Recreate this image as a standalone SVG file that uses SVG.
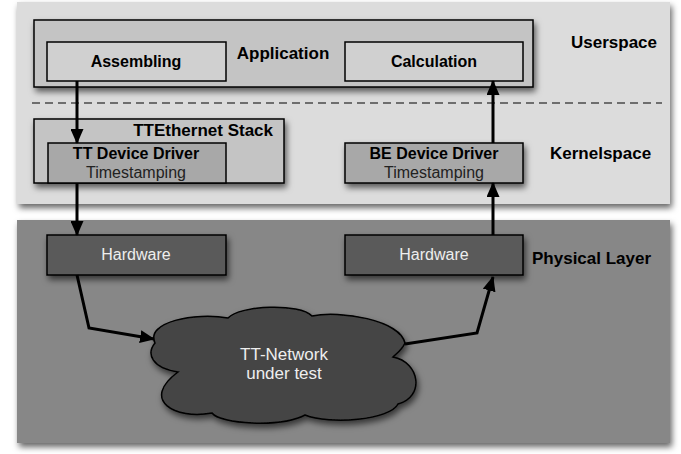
<svg xmlns="http://www.w3.org/2000/svg" width="681" height="454" viewBox="0 0 681 454">
<defs>
<filter id="sh" x="-10%" y="-10%" width="130%" height="140%">
<feDropShadow dx="2" dy="4" stdDeviation="3" flood-color="#000" flood-opacity="0.6"/>
</filter>
<marker id="ah" viewBox="0 0 15 13" refX="14" refY="6.5" markerWidth="15" markerHeight="13" markerUnits="userSpaceOnUse" orient="auto">
<path d="M0,0 L15,6.5 L0,13 Z" fill="#000"/>
</marker>
</defs>
<style>
text{font-family:"Liberation Sans",Arial,sans-serif;}
.b{font-weight:bold;fill:#000;}
.box{stroke:#000;stroke-width:1.5;}
.c{stroke:#000;stroke-width:3;fill:none;marker-end:url(#ah);}
</style>
<g id="userkernel-panel">
<rect x="17" y="2" width="653" height="202" fill="#dcdcdc" filter="url(#sh)"/>
</g>
<g id="physical-panel">
<rect x="17" y="220" width="653" height="223" fill="#878787" filter="url(#sh)"/>
</g>
<g id="labels">
<text class="b" x="571" y="48" font-size="17">Userspace</text>
<text class="b" x="550" y="159" font-size="17">Kernelspace</text>
<text class="b" x="532" y="264" font-size="17">Physical Layer</text>
</g>
<line x1="32" y1="103" x2="662" y2="103" stroke="#000" stroke-width="1.2" stroke-dasharray="8,5"/>
<g id="application">
<rect class="box" x="34" y="20" width="499" height="67" fill="#c4c4c4" filter="url(#sh)"/>
<text class="b" x="283" y="59" font-size="17" text-anchor="middle">Application</text>
</g>
<g id="assembling">
<rect class="box" x="47" y="42" width="179" height="39" fill="#d0d0d0"/>
<text class="b" x="136" y="67" font-size="16" text-anchor="middle">Assembling</text>
</g>
<g id="calculation">
<rect class="box" x="345" y="42" width="178" height="39" fill="#d0d0d0"/>
<text class="b" x="434" y="67" font-size="16" text-anchor="middle">Calculation</text>
</g>
<g id="ttethernet-stack">
<rect class="box" x="34" y="119" width="250" height="64" fill="#c4c4c4" filter="url(#sh)"/>
<text class="b" x="273" y="136" font-size="17" text-anchor="end">TTEthernet Stack</text>
</g>
<g id="tt-device-driver">
<rect class="box" x="48" y="143" width="178" height="40" fill="#a8a8a8"/>
<text class="b" x="136" y="159" font-size="16" text-anchor="middle">TT Device Driver</text>
<text x="136" y="178" font-size="16" text-anchor="middle" fill="#222">Timestamping</text>
</g>
<g id="be-device-driver">
<rect class="box" x="345" y="143" width="178" height="40" fill="#a8a8a8" filter="url(#sh)"/>
<text class="b" x="434" y="159" font-size="16" text-anchor="middle">BE Device Driver</text>
<text x="434" y="178" font-size="16" text-anchor="middle" fill="#222">Timestamping</text>
</g>
<g id="hardware-left">
<rect class="box" x="47" y="235" width="179" height="40" fill="#5a5a5a" filter="url(#sh)"/>
<text x="136" y="260" font-size="16" text-anchor="middle" fill="#eee">Hardware</text>
</g>
<g id="hardware-right">
<rect class="box" x="345" y="235" width="178" height="40" fill="#5a5a5a" filter="url(#sh)"/>
<text x="434" y="260" font-size="16" text-anchor="middle" fill="#eee">Hardware</text>
</g>
<g id="tt-network">
<path class="box" fill="#444" filter="url(#sh)" d="M155,343 C145,322 195,312 228,318 C240,305 300,303 312,316 C340,310 400,320 405,343 C402,350 396,354 393,357 C420,362 425,397 398,404 C390,420 330,425 305,415 C280,428 220,424 212,413 C175,420 140,400 178,372 C152,368 146,354 155,343 Z"/>
<text x="284" y="360" font-size="17" text-anchor="middle" fill="#eee">TT-Network</text>
<text x="284" y="379" font-size="17" text-anchor="middle" fill="#eee">under test</text>
</g>
<g id="connectors">
<line class="c" x1="77" y1="81" x2="77" y2="143"/>
<line class="c" x1="77" y1="183" x2="77" y2="235"/>
<polyline class="c" points="77,275 89,328 154,339"/>
<polyline class="c" points="405,344 477,333 493,277"/>
<line class="c" x1="493" y1="235" x2="493" y2="183"/>
<line class="c" x1="493" y1="143" x2="493" y2="81"/>
</g>
</svg>
